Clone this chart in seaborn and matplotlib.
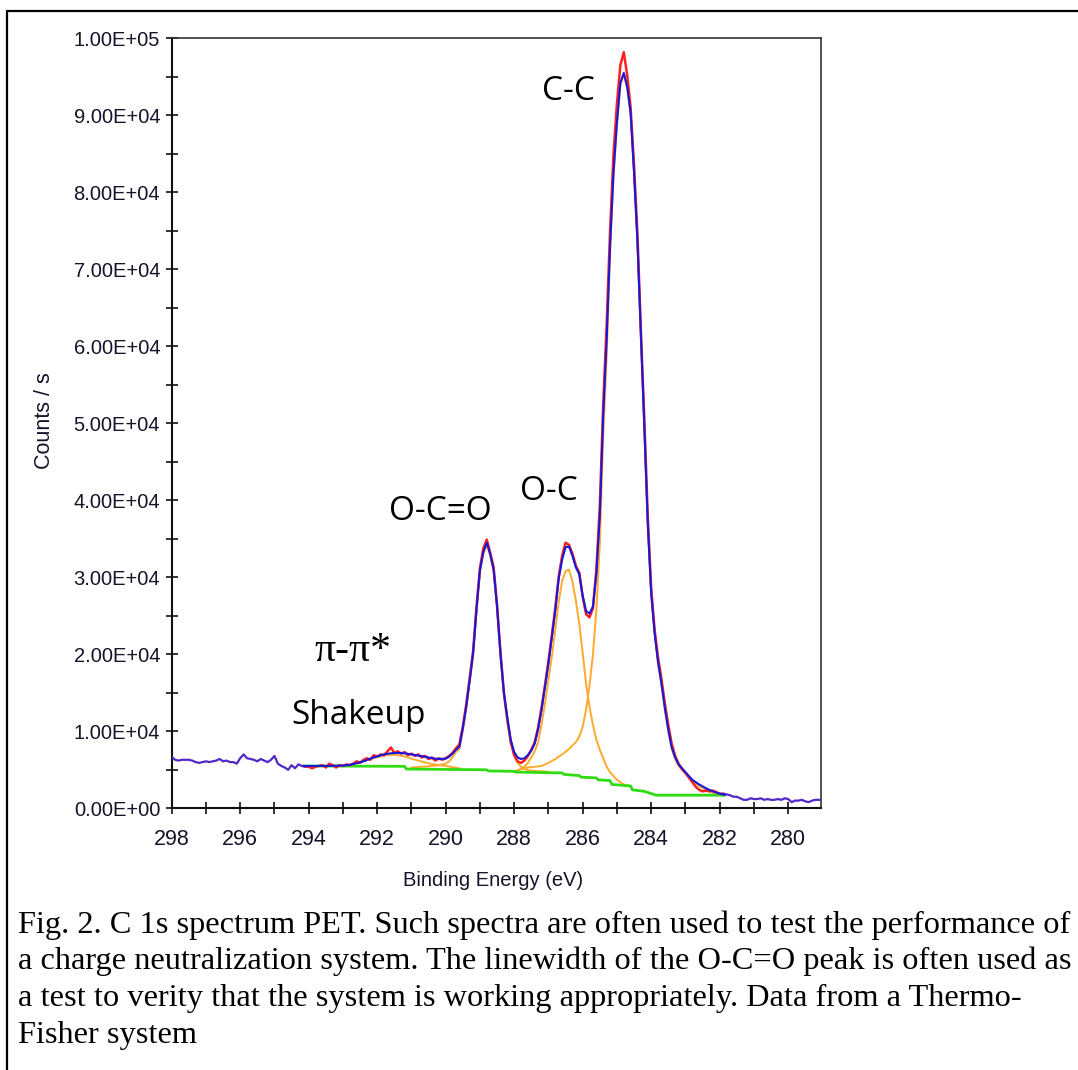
import numpy as np
import matplotlib
matplotlib.use("Agg")
import matplotlib.pyplot as plt
from matplotlib.lines import Line2D
from matplotlib.ticker import MultipleLocator, FuncFormatter
import seaborn as sns

SCALE = 1000.0  # values below are in thousands of counts/s

# ---------------- raw spectrum (counts/s, thousands) ----------------
raw_energy = [
    298.0, 297.9, 297.8, 297.7, 297.6, 297.5, 297.4, 297.3, 297.2, 297.1,
    297.0, 296.9, 296.8, 296.7, 296.6, 296.5, 296.4, 296.3, 296.2, 296.1,
    296.0, 295.9, 295.8, 295.7, 295.6, 295.5, 295.4, 295.3, 295.2, 295.1,
    295.0, 294.9, 294.8, 294.7, 294.6, 294.5, 294.4, 294.3, 294.2, 294.1,
    294.0, 293.9, 293.8, 293.7, 293.6, 293.5, 293.4, 293.3, 293.2, 293.1,
    293.0, 292.9, 292.8, 292.7, 292.6, 292.5, 292.4, 292.3, 292.2, 292.1,
    292.0, 291.9, 291.8, 291.7, 291.6, 291.5, 291.4, 291.3, 291.2, 291.1,
    291.0, 290.9, 290.8, 290.7, 290.6, 290.5, 290.4, 290.3, 290.2, 290.1,
    290.0, 289.9, 289.8, 289.7, 289.6, 289.5, 289.4, 289.3, 289.2, 289.1,
    289.0, 288.9, 288.8, 288.7, 288.6, 288.5, 288.4, 288.3, 288.2, 288.1,
    288.0, 287.9, 287.8, 287.7, 287.6, 287.5, 287.4, 287.3, 287.2, 287.1,
    287.0, 286.9, 286.8, 286.7, 286.6, 286.5, 286.4, 286.3, 286.2, 286.1,
    286.0, 285.9, 285.8, 285.7, 285.6, 285.5, 285.4, 285.3, 285.2, 285.1,
    285.0, 284.9, 284.8, 284.7, 284.6, 284.5, 284.4, 284.3, 284.2, 284.1,
    284.0, 283.9, 283.8, 283.7, 283.6, 283.5, 283.4, 283.3, 283.2, 283.1,
    283.0, 282.9, 282.8, 282.7, 282.6, 282.5, 282.4, 282.3, 282.2, 282.1,
    282.0, 281.9, 281.8, 281.7, 281.6, 281.5, 281.4, 281.3, 281.2, 281.1,
    281.0, 280.9, 280.8, 280.7, 280.6, 280.5, 280.4, 280.3, 280.2, 280.1,
    280.0, 279.9, 279.8, 279.7, 279.6, 279.5, 279.4, 279.3, 279.2, 279.1,
    279.0,
]
raw_counts_k = [
    6.7, 6.3, 6.2, 6.3, 6.3, 6.3, 6.2, 6.0, 5.9, 6.0,
    6.1, 6.0, 6.1, 6.2, 6.4, 6.1, 6.2, 6.0, 6.0, 5.8,
    6.5, 7.0, 6.5, 6.4, 6.3, 6.1, 6.4, 6.2, 6.0, 6.3,
    6.8, 5.8, 5.5, 5.3, 5.0, 5.6, 5.2, 5.7, 5.5, 5.4,
    5.4, 5.2, 5.4, 5.5, 5.6, 5.3, 5.8, 5.6, 5.3, 5.6,
    5.5, 5.7, 5.6, 5.8, 6.1, 5.9, 6.3, 6.5, 6.3, 6.9,
    6.7, 7.0, 6.9, 7.4, 7.9, 7.2, 7.4, 7.1, 7.3, 6.9,
    7.1, 6.8, 7.0, 6.6, 6.8, 6.4, 6.6, 6.2, 6.5, 6.3,
    6.5, 6.8, 7.2, 7.8, 8.3, 10.6, 13.5, 16.9, 20.4, 26.2,
    31.2, 33.8, 34.9, 33.2, 31.3, 26.4, 20.3, 15.0, 11.5, 8.6,
    6.9, 6.1, 5.9, 6.2, 6.8, 7.6, 8.6, 10.5, 13.1, 16.0,
    19.1, 22.5, 26.0, 30.1, 32.8, 34.5, 34.2, 33.1, 31.5, 30.6,
    27.5, 25.2, 24.8, 26.0, 31.0, 39.2, 52.5, 62.8, 75.0, 85.0,
    91.5, 96.5, 98.2, 95.2, 91.0, 83.5, 74.5, 62.0, 50.5, 38.0,
    28.6, 23.2, 19.6, 16.8, 13.6, 10.8, 8.4, 6.8, 5.8, 5.1,
    4.6, 4.0, 3.4, 2.8, 2.4, 2.2, 2.3, 2.2, 2.3, 2.1,
    1.9, 1.9, 1.8, 1.7, 1.5, 1.5, 1.3, 1.1, 1.1, 1.3,
    1.2, 1.2, 1.3, 1.1, 1.2, 1.1, 1.1, 1.2, 1.1, 1.3,
    1.2, 0.8, 1.0, 1.0, 1.1, 0.9, 0.8, 1.0, 1.1, 1.1,
    1.1,
]
fit_start, fit_end = 294.1, 281.9   # energy window of the peak fit

# ---------------- fitted envelope (thousands) ----------------
env_energy = [
    294.15, 294.0, 293.5, 293.0, 292.8, 292.6, 292.4, 292.2, 292.0, 291.8,
    291.6, 291.4, 291.2, 291.0, 290.8, 290.6, 290.4, 290.2, 290.0, 289.9,
    289.8, 289.7, 289.6, 289.5, 289.4, 289.3, 289.2, 289.1, 289.0, 288.9,
    288.8, 288.7, 288.6, 288.5, 288.4, 288.3, 288.2, 288.1, 288.0, 287.9,
    287.8, 287.7, 287.6, 287.5, 287.4, 287.3, 287.2, 287.1, 287.0, 286.9,
    286.8, 286.7, 286.6, 286.5, 286.4, 286.3, 286.2, 286.1, 286.0, 285.9,
    285.8, 285.7, 285.6, 285.5, 285.4, 285.3, 285.2, 285.1, 285.0, 284.9,
    284.8, 284.7, 284.6, 284.5, 284.4, 284.3, 284.2, 284.1, 284.0, 283.9,
    283.8, 283.7, 283.6, 283.5, 283.4, 283.3, 283.2, 283.0, 282.8, 282.6,
    282.4, 282.2, 282.0, 281.85,
]
env_counts_k = [
    5.5, 5.5, 5.5, 5.55, 5.65, 5.85, 6.1, 6.45, 6.75, 7.0,
    7.15, 7.2, 7.15, 7.0, 6.85, 6.7, 6.5, 6.4, 6.45, 6.7,
    7.1, 7.6, 8.0, 10.4, 13.2, 16.6, 20.1, 25.8, 30.9, 33.3,
    34.5, 33.0, 31.0, 26.2, 20.0, 15.0, 11.8, 8.9, 7.3, 6.6,
    6.4, 6.5, 6.9, 7.5, 8.4, 10.3, 12.8, 15.8, 18.8, 22.2,
    25.7, 29.8, 32.3, 33.9, 34.0, 32.8, 31.3, 30.4, 27.6, 25.6,
    25.3, 26.2, 30.5, 38.0, 51.0, 60.8, 73.0, 82.5, 89.0, 94.2,
    95.5, 93.7, 90.3, 82.5, 73.5, 61.5, 49.5, 37.0, 28.0, 22.8,
    19.0, 16.2, 13.0, 10.2, 7.9, 6.6, 5.7, 4.7, 3.7, 3.1,
    2.6, 2.2, 1.9, 1.75,
]

# ---------------- background (thousands) ----------------
bg_energy = [294.15, 291.2, 291.15, 288.8, 288.75, 288.0, 287.95, 286.6, 286.55,
             286.1, 286.05, 285.6, 285.55, 285.2, 285.15, 284.6, 284.55, 284.2,
             283.85, 281.85]
bg_counts_k = [5.5, 5.45, 5.1, 5.0, 4.85, 4.8, 4.7, 4.6, 4.4,
               4.25, 4.05, 3.95, 3.7, 3.6, 3.1, 2.9, 2.4, 2.2,
               1.7, 1.7]

# ---------------- fitted components, as drawn (thousands) ----------------
shake_energy = [293.0, 292.8, 292.6, 292.4, 292.2, 292.0, 291.8, 291.6, 291.4,
                291.2, 291.0, 290.8, 290.6, 290.4, 290.2, 290.0, 289.8, 289.6]
shake_counts_k = [5.55, 5.65, 5.85, 6.1, 6.4, 6.65, 6.85, 6.95, 6.9,
                  6.75, 6.45, 6.2, 5.95, 5.75, 5.6, 5.5, 5.35, 5.2]

occo_energy = [291.0, 290.5, 290.2, 290.0, 289.9, 289.8, 289.7, 289.6, 289.5,
               289.4, 289.3, 289.2, 289.1, 289.0, 288.9, 288.8, 288.7, 288.6,
               288.5, 288.4, 288.3, 288.2, 288.1, 288.0, 287.9, 287.8, 287.7,
               287.6, 287.4, 287.0]
occo_counts_k = [5.3, 5.45, 5.6, 5.8, 6.1, 6.6, 7.3, 7.7, 10.0,
                 12.9, 16.3, 19.8, 25.5, 30.6, 33.0, 34.2, 32.8, 30.7,
                 26.0, 19.8, 14.7, 11.4, 8.5, 6.8, 5.9, 5.4, 5.1,
                 4.95, 4.85, 4.75]

oc_energy = [287.9, 287.8, 287.7, 287.6, 287.5, 287.4, 287.3, 287.2, 287.1,
             287.0, 286.9, 286.8, 286.7, 286.6, 286.5, 286.4, 286.3, 286.2,
             286.1, 286.0, 285.9, 285.8, 285.7, 285.6, 285.5, 285.4, 285.3,
             285.2, 285.1, 285.0, 284.8, 284.7]
oc_counts_k = [4.9, 5.1, 5.4, 5.9, 6.6, 7.4, 8.6, 10.9, 13.6,
               16.7, 19.7, 23.2, 26.8, 29.5, 30.8, 31.0, 29.5, 27.0,
               24.0, 20.2, 16.1, 13.2, 10.8, 8.9, 7.6, 6.5, 5.4,
               4.7, 4.2, 3.7, 3.1, 3.0]

cc_energy = [288.0, 287.8, 287.6, 287.4, 287.2, 287.0, 286.8, 286.6, 286.4,
             286.2, 286.1, 286.0, 285.9, 285.8, 285.7, 285.6, 285.5, 285.4,
             285.3, 285.2, 285.1, 285.0, 284.9, 284.8, 284.7, 284.6, 284.5,
             284.4, 284.3, 284.2, 284.1, 284.0, 283.9, 283.8, 283.7, 283.6,
             283.5, 283.4, 283.3, 283.2, 283.0, 282.8, 282.6, 282.4, 282.2,
             282.0, 281.85]
cc_counts_k = [4.8, 5.1, 5.3, 5.4, 5.5, 5.9, 6.4, 7.0, 7.7,
               8.6, 9.3, 10.6, 12.8, 16.0, 20.0, 25.8, 34.3, 48.5,
               58.5, 72.0, 82.0, 88.7, 93.9, 95.3, 93.5, 90.1, 82.3,
               73.3, 61.3, 49.3, 36.8, 27.8, 22.6, 18.8, 16.0, 12.8,
               10.0, 7.7, 6.4, 5.5, 4.5, 3.5, 2.9, 2.4, 2.0,
               1.8, 1.7]

# ---------------- labels ----------------
x_ticks = [298, 296, 294, 292, 290, 288, 286, 284, 282, 280]
peak_labels = ["C-C", "O-C", "O-C=O", "Shakeup"]
caption_lines = [
    "Fig. 2. C 1s spectrum PET. Such spectra are often used to test the performance of",
    "a charge neutralization system. The linewidth of the O-C=O peak is often used as",
    "a test to verity that the system is working appropriately. Data from a Thermo-",
    "Fisher system",
]

# ---------------- drawing ----------------
sns.set_theme(style="white")
plt.rcParams['font.family'] = ['Liberation Sans', 'DejaVu Sans']

W, H = 1078, 1070
fig = plt.figure(figsize=(W / 100, H / 100), dpi=100)
fig.patch.set_facecolor("white")
ax = fig.add_axes([171.7 / W, 1 - 808.3 / H, (820.7 - 171.7) / W, (808.3 - 38.3) / H])
ax.set_facecolor("white")

orange = "#ffa92e"
green = "#2fdc14"
red = "#ff1f1f"
blue = "#1818dc"
purple = "#5228c8"

for e, c in [(shake_energy, shake_counts_k), (occo_energy, occo_counts_k),
             (oc_energy, oc_counts_k), (cc_energy, cc_counts_k)]:
    sns.lineplot(x=e, y=np.array(c) * SCALE, ax=ax, color=orange, lw=1.4,
                 estimator=None, zorder=2)

sns.lineplot(x=bg_energy, y=np.array(bg_counts_k) * SCALE, ax=ax, color=green,
             lw=2.0, estimator=None, zorder=3)

re = np.array(raw_energy)
rc = np.array(raw_counts_k) * SCALE
m_in = (re <= fit_start + 1e-9) & (re >= fit_end - 1e-9)
m_left = re >= fit_start - 1e-9
m_right = re <= fit_end + 1e-9
sns.lineplot(x=re[m_in], y=rc[m_in], ax=ax, color=red, lw=1.8, estimator=None, zorder=4)
sns.lineplot(x=re[m_left], y=rc[m_left], ax=ax, color=purple, lw=1.6, estimator=None, zorder=4)
sns.lineplot(x=re[m_right], y=rc[m_right], ax=ax, color=purple, lw=1.6, estimator=None, zorder=4)

sns.lineplot(x=env_energy, y=np.array(env_counts_k) * SCALE, ax=ax, color=blue,
             lw=1.5, estimator=None, zorder=5)

ax.set_xlim(298, 279.05)
ax.set_ylim(0, 100000)
ax.set_xlabel("")
ax.set_ylabel("")
ax.set_xticks(x_ticks)
ax.set_xticklabels([str(t) for t in x_ticks])
ax.xaxis.set_minor_locator(MultipleLocator(1))
ax.yaxis.set_major_locator(MultipleLocator(10000))
ax.yaxis.set_minor_locator(MultipleLocator(5000))
ax.yaxis.set_major_formatter(FuncFormatter(lambda v, p: f"{v:.2E}"))
ax.tick_params(axis='both', which='both', direction='inout', length=8.5,
               width=1.2, color='#111111', left=True, bottom=True)
ax.tick_params(axis='y', which='major', labelsize=14.5, pad=4, labelcolor='#14142a')
ax.tick_params(axis='x', which='major', labelsize=15.5, pad=11, labelcolor='#14142a')
for s in ['left', 'bottom']:
    ax.spines[s].set_color('#111111')
    ax.spines[s].set_linewidth(1.5)
for s in ['top', 'right']:
    ax.spines[s].set_color('#333333')
    ax.spines[s].set_linewidth(1.2)
ax.grid(False)

# axis titles
fig.text(45 / W, 1 - 421 / H, "Counts / s", rotation=90, fontsize=15.5,
         ha='center', va='center', color='#14142a')
fig.text(493 / W, 1 - 880 / H, "Binding Energy (eV)", fontsize=14.5,
         ha='center', va='center', color='#14142a')

# peak annotations
ann_font = ['Open Sans', 'DejaVu Sans']
fig.text(568 / W, 1 - 92 / H, peak_labels[0], fontsize=24, family=ann_font, ha='center', va='center', color='black')
fig.text(549 / W, 1 - 492 / H, peak_labels[1], fontsize=24, family=ann_font, ha='center', va='center', color='black')
fig.text(440 / W, 1 - 512 / H, peak_labels[2], fontsize=24, family=ann_font, ha='center', va='center', color='black')
fig.text(359 / W, 1 - 716 / H, peak_labels[3], fontsize=24, family=ann_font, ha='center', va='center', color='black')
fig.text(353 / W, 1 - 651 / H, "π-π*", fontsize=30, family=['Liberation Serif', 'DejaVu Serif'],
         ha='center', va='center', color='black')

# caption
for i, line in enumerate(caption_lines):
    fig.text(18 / W, 1 - (933 + 36.5 * i) / H, line, fontsize=23.3,
             family=['Liberation Serif', 'DejaVu Serif'], ha='left', va='baseline', color='black')

# outer frame (left and top edges visible)
fig.add_artist(Line2D([7 / W, 7 / W], [0, 1 - 11 / H], transform=fig.transFigure, color='black', lw=1.6))
fig.add_artist(Line2D([7 / W, 1], [1 - 11 / H, 1 - 11 / H], transform=fig.transFigure, color='black', lw=1.6))

fig.savefig("out.png", dpi=100, facecolor="white")
